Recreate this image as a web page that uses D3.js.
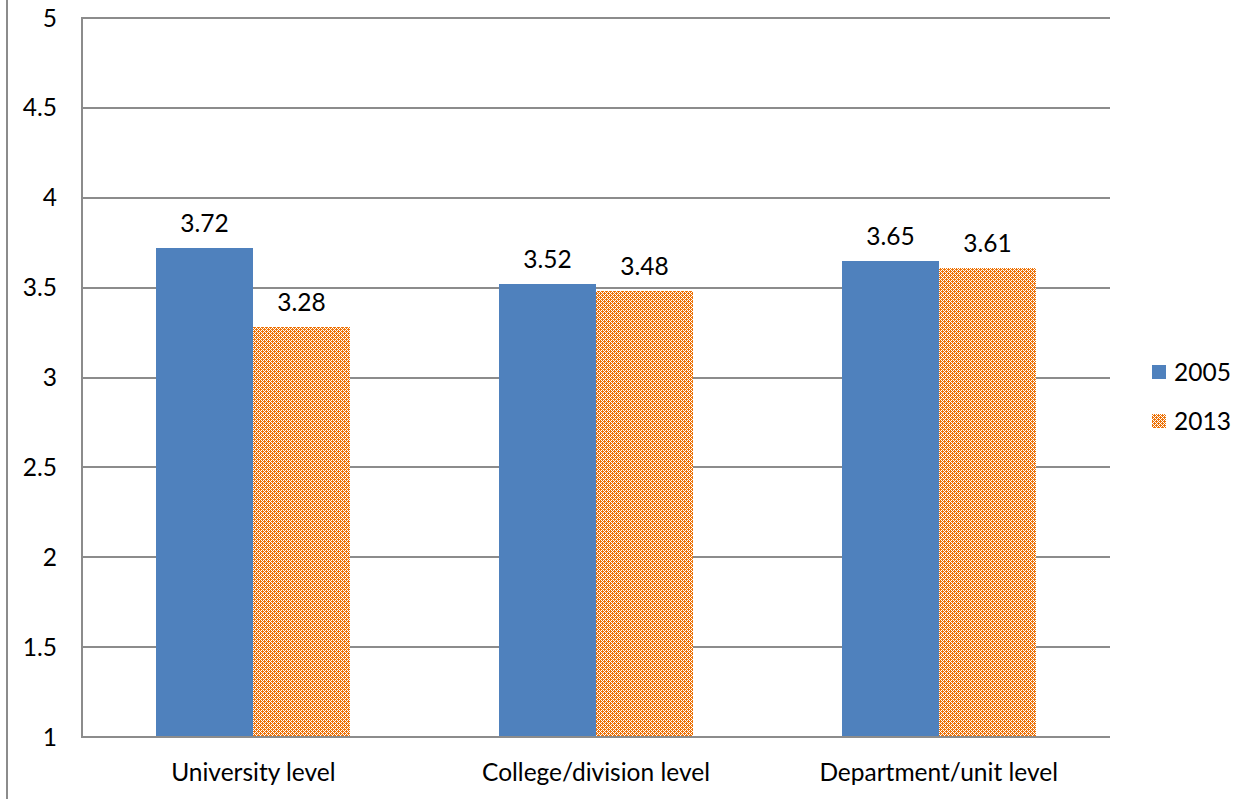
<!DOCTYPE html>
<html>
<head>
<meta charset="utf-8">
<script src="https://cdn.jsdelivr.net/npm/d3@7"></script>
<style>
  html, body { margin: 0; padding: 0; background: #fff; }
  svg { display: block; }
  text { font-family: "Lato", "Open Sans", sans-serif; fill: #000; }
</style>
</head>
<body>
<svg id="chart" width="1250" height="799"></svg>
<script>
// Data
const categories = ["University level", "College/division level", "Department/unit level"];
const seriesNames = ["2005", "2013"];
const values2005 = [3.72, 3.52, 3.65];
const values2013 = [3.28, 3.48, 3.61];
const yTicks = [1, 1.5, 2, 2.5, 3, 3.5, 4, 4.5, 5];

const seriesValues = [values2005, values2013];

const svg = d3.select("#chart");
const margin = { left: 82, right: 140, top: 18, bottom: 62 };
const W = 1250, H = 799;
const FS = 24.5;

// Texture for the second series: orange crosses on white
const defs = svg.append("defs");
const pat = defs.append("pattern")
  .attr("id", "checks")
  .attr("patternUnits", "userSpaceOnUse")
  .attr("x", 3).attr("y", 0)
  .attr("width", 4).attr("height", 4);
pat.append("rect").attr("width", 4).attr("height", 4).attr("fill", "#fff");
pat.append("path")
  .attr("d", "M1,0h1v1h-1zM3,0h1v1h-1zM0,1h3v1h-3zM1,2h1v1h-1zM3,2h1v1h-1zM0,3h1v1h-1zM2,3h2v1h-2z")
  .attr("fill", "#EE7308");

const fills = ["#4F81BD", "url(#checks)"];

// Outer frame edge on the left
svg.append("line")
  .attr("x1", 7).attr("x2", 7).attr("y1", 0).attr("y2", H)
  .attr("stroke", "#8c8c8c").attr("stroke-width", 2);

const x0 = d3.scaleBand()
  .domain(categories)
  .range([margin.left, W - margin.right])
  .paddingInner(0.434).paddingOuter(0.217);
const x1 = d3.scaleBand()
  .domain(seriesNames)
  .range([0, x0.bandwidth()]);
const y = d3.scaleLinear()
  .domain([1, 5])
  .range([H - margin.bottom, margin.top]);

// Horizontal gridlines
svg.append("g")
  .selectAll("line")
  .data(yTicks)
  .join("line")
  .attr("x1", margin.left).attr("x2", W - margin.right)
  .attr("y1", d => Math.round(y(d))).attr("y2", d => Math.round(y(d)))
  .attr("stroke", "#8c8c8c").attr("stroke-width", 2);

// Vertical axis line
svg.append("line")
  .attr("x1", margin.left).attr("x2", margin.left)
  .attr("y1", y(5) - 1).attr("y2", y(1) + 1)
  .attr("stroke", "#8c8c8c").attr("stroke-width", 2);

// Y tick labels
svg.append("g")
  .selectAll("text")
  .data(yTicks)
  .join("text")
  .attr("x", 57)
  .attr("y", d => y(d))
  .attr("dy", "0.35em")
  .attr("text-anchor", "end")
  .attr("font-size", FS)
  .text(d => d);

// Bar records in page coordinates
const barData = [];
categories.forEach((c, i) => {
  seriesNames.forEach((s, j) => {
    barData.push({ c, s, j, v: seriesValues[j][i] });
  });
});
const barW = Math.round(x1.bandwidth());
const bx = d => Math.round(x0(d.c)) + Math.round(x1(d.s));

svg.append("g")
  .selectAll("rect")
  .data(barData)
  .join("rect")
  .attr("x", bx)
  .attr("width", barW)
  .attr("y", d => Math.round(y(d.v)))
  .attr("height", d => Math.round(y(1)) - Math.round(y(d.v)))
  .attr("fill", d => fills[d.j]);

// Value labels
svg.append("g")
  .selectAll("text")
  .data(barData)
  .join("text")
  .attr("x", d => bx(d) + barW / 2)
  .attr("y", d => y(d.v) - 16)
  .attr("text-anchor", "middle")
  .attr("font-size", FS)
  .text(d => d.v.toFixed(2));

// Bottom axis line
svg.append("line")
  .attr("x1", margin.left).attr("x2", W - margin.right)
  .attr("y1", Math.round(y(1))).attr("y2", Math.round(y(1)))
  .attr("stroke", "#8c8c8c").attr("stroke-width", 2);

// Category labels
svg.append("g")
  .selectAll("text")
  .data(categories)
  .join("text")
  .attr("x", d => x0(d) + x0.bandwidth() / 2)
  .attr("y", 772)
  .attr("dy", "0.35em")
  .attr("text-anchor", "middle")
  .attr("font-size", FS)
  .text(d => d);

// Legend
const legend = svg.append("g")
  .selectAll("g")
  .data(seriesNames)
  .join("g");
legend.append("rect")
  .attr("x", 1152).attr("y", (d, i) => 365 + i * 49)
  .attr("width", 14).attr("height", 14)
  .attr("fill", (d, i) => fills[i]);
legend.append("text")
  .attr("x", 1174).attr("y", (d, i) => 372 + i * 49).attr("dy", "0.35em")
  .attr("font-size", FS)
  .text(d => d);
</script>
</body>
</html>
